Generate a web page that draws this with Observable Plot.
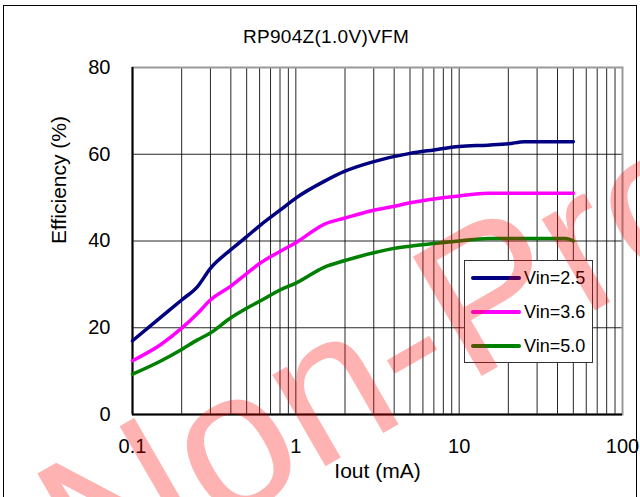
<!DOCTYPE html>
<html>
<head>
<meta charset="utf-8">
<script src="https://cdn.jsdelivr.net/npm/d3@7"></script>
<script src="https://cdn.jsdelivr.net/npm/@observablehq/plot@0.6"></script>
<style>
  html, body { margin: 0; padding: 0; background: #fff; }
  #wrap { position: relative; width: 640px; height: 497px; overflow: hidden; font-family: "Liberation Sans", Arial, sans-serif; }
  #outer { position: absolute; left: 3px; top: 5px; width: 634px; height: 520px; border: 1px solid #000; box-sizing: border-box; pointer-events: none; }
  #title { position: absolute; left: 6px; width: 640px; top: 25px; line-height: 24px; text-align: center; font-size: 19px; letter-spacing: 0.3px; color: #000; }
  #legend { position: absolute; left: 464px; top: 260px; width: 129px; height: 103px; background: #fff; border: 1px solid #333; box-sizing: border-box; }
  .lg { position: absolute; left: 6px; height: 22px; display: flex; align-items: center; font-size: 18px; color: #000; }
  .lg span.sw { display: inline-block; width: 50px; height: 4px; border-radius: 2px; margin-right: 3px; }
  #wm { position: absolute; left: 0; top: 0; pointer-events: none; }
</style>
</head>
<body>
<div id="wrap">
  <div id="chart"></div>
  <div id="outer"></div>
  <div id="title"></div>
  <div id="legend"></div>
  <svg id="wm" width="640" height="497"></svg>
</div>
<script>
// ---- data ----
const title = "RP904Z(1.0V)VFM";
const xLabel = "Iout (mA)";
const yLabel = "Efficiency (%)";
const seriesNames = ["Vin=2.5", "Vin=3.6", "Vin=5.0"];
const seriesColors = ["#000080", "#ff00ff", "#008000"];

const iout25 = [0.1, 0.15, 0.2, 0.25, 0.3, 0.4, 0.5, 0.6, 0.8, 1, 1.5, 2, 3, 5, 7, 10, 15, 20, 25, 30, 50];
const eff25  = [17.0, 22.5, 26.4, 29.5, 33.7, 38.0, 41.0, 43.5, 47.1, 49.9, 53.8, 56.1, 58.3, 60.2, 61.0, 61.8, 62.1, 62.4, 62.9, 62.9, 62.9];

const iout36 = [0.1, 0.15, 0.2, 0.25, 0.3, 0.4, 0.5, 0.6, 0.8, 1, 1.5, 2, 3, 4, 5, 7, 10, 15, 20, 30, 50];
const eff36  = [12.4, 16.2, 19.9, 23.3, 26.4, 29.6, 32.5, 34.8, 37.6, 39.6, 43.9, 45.3, 47.1, 48.0, 48.8, 49.7, 50.4, 51.0, 51.0, 51.0, 51.0];

const iout50 = [0.1, 0.15, 0.2, 0.25, 0.3, 0.4, 0.5, 0.6, 0.8, 1, 1.5, 2, 3, 4, 5, 7, 10, 15, 20, 30, 45, 50];
const eff50  = [9.3, 12.4, 15.0, 17.2, 18.8, 22.3, 24.5, 26.1, 28.7, 30.3, 34.0, 35.5, 37.3, 38.3, 38.8, 39.4, 40.0, 40.6, 40.6, 40.6, 40.6, 40.0];

const xTicks = [0.1, 1, 10, 100];
const yTicks = [0, 20, 40, 60, 80];
const watermark = "Non-Pro";

// ---- build ----
const rows = [];
[[iout25, eff25], [iout36, eff36], [iout50, eff50]].forEach(([xs, ys], k) => {
  xs.forEach((x, i) => rows.push({series: seriesNames[k], x, y: ys[i]}));
});
const xGrid = [];
for (const dec of [0.1, 1, 10]) for (let m = 1; m <= 9; m++) xGrid.push(+(dec * m).toPrecision(3));

const chart = Plot.plot({
  width: 640,
  height: 497,
  marginLeft: 132,
  marginRight: 18,
  marginTop: 67,
  marginBottom: 83,
  style: {fontFamily: "'Liberation Sans', Arial, sans-serif", fontSize: "20px", color: "#000", background: "#fff"},
  x: {type: "log", domain: [0.1, 100]},
  y: {domain: [0, 80]},
  color: {domain: seriesNames, range: seriesColors},
  marks: [
    Plot.ruleX(xGrid, {stroke: "#000", strokeWidth: 1, strokeOpacity: 0.85}),
    Plot.ruleY(yTicks.slice(1, -1), {stroke: "#000", strokeWidth: 1, strokeOpacity: 0.85}),
    Plot.frame({stroke: "#999", strokeWidth: 2}),
    Plot.ruleX([0.1], {stroke: "#000", strokeWidth: 2}),
    Plot.ruleY([0], {stroke: "#000", strokeWidth: 2}),
    Plot.line(rows, {x: "x", y: "y", z: "series", stroke: "series", strokeWidth: 3.5, curve: "monotone-x"}),
    Plot.axisX({ticks: xTicks, tickFormat: d => String(d), tickSize: 0, tickPadding: 24, fontSize: 20, label: null}),
    Plot.axisY({ticks: yTicks, tickSize: 0, tickPadding: 22, fontSize: 20, label: null}),
    Plot.text([xLabel], {frameAnchor: "bottom", dy: 63, dx: 0, fontSize: 21, text: d => d}),
    Plot.text([yLabel], {frameAnchor: "left", dx: -73, dy: 3, rotate: -90, fontSize: 21, text: d => d})
  ]
});
document.getElementById("chart").appendChild(chart);
document.getElementById("title").textContent = title;

const lg = document.getElementById("legend");
seriesNames.forEach((n, i) => {
  const d = document.createElement("div");
  d.className = "lg";
  d.style.top = (6 + i * 34) + "px";
  d.innerHTML = `<span class="sw" style="background:${seriesColors[i]}"></span>${n}`;
  lg.appendChild(d);
});

// watermark overlay
const wm = d3.select("#wm");
wm.append("text")
  .attr("transform", "translate(92,601) rotate(-30)")
  .attr("font-family", "'Liberation Sans', Arial, sans-serif")
  .attr("font-size", 200)
  .attr("fill", "#ff0000")
  .attr("fill-opacity", 0.3)
  .text(watermark);
</script>
</body>
</html>
